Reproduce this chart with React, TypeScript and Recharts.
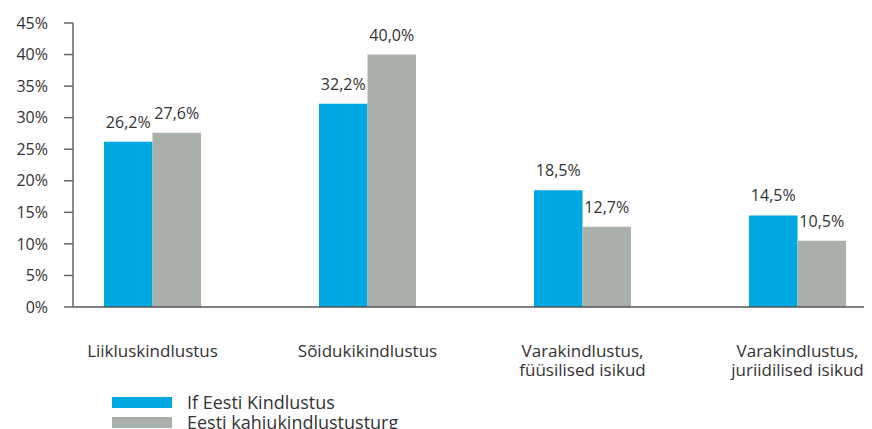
import { Bar, BarChart, LabelList, XAxis, YAxis } from "recharts";

const categories = [
  "Liikluskindlustus",
  "Sõidukikindlustus",
  "Varakindlustus,\nfüüsilised isikud",
  "Varakindlustus,\njuriidilised isikud",
];
const ifEesti = [26.2, 32.2, 18.5, 14.5];
const market = [27.6, 40.0, 12.7, 10.5];
const yTicks = [0, 5, 10, 15, 20, 25, 30, 35, 40, 45];

const BLUE = "#00a8e2";
const GREY = "#a9b0aa";
const TEXT = "#333333";
const FONT = "'Open Sans', sans-serif";

const series = [
  { key: "ifEesti", name: "If Eesti Kindlustus", color: BLUE },
  { key: "market", name: "Eesti kahjukindlustusturg", color: GREY },
];

const data = categories.map((name, i) => ({
  name,
  ifEesti: ifEesti[i],
  market: market[i],
}));

const pct = (v: unknown) => `${Number(v).toFixed(1).replace(".", ",")}%`;

function CategoryTick({ x, y, payload }: any) {
  const lines = String(payload.value).split("\n");
  return (
    <g>
      {lines.map((line, i) => (
        <text
          key={i}
          x={x}
          y={y + 42 + i * 19}
          textAnchor="middle"
          fill={TEXT}
          fontSize={17}
          fontFamily={FONT}
        >
          {line}
        </text>
      ))}
    </g>
  );
}

export default function App() {
  return (
    <div style={{ position: "relative", width: 864, height: 421, overflow: "hidden" }}>
      <BarChart
        width={897}
        height={421}
        data={data}
        margin={{ top: 15, right: 0, bottom: 82, left: 0 }}
        barGap={0}
        barSize={48.5}
      >
        <XAxis
          dataKey="name"
          interval={0}
          padding={{ left: -28, right: 0 }}
          tickLine={false}
          height={40}
          stroke="#555"
          strokeWidth={1.5}
          tick={<CategoryTick />}
        />
        <YAxis
          domain={[0, 45]}
          ticks={yTicks}
          width={65}
          tickSize={9}
          tickMargin={16}
          stroke="#666"
          strokeWidth={1.5}
          tickFormatter={(v) => `${v}%`}
          tick={{ fill: TEXT, fontSize: 16, fontFamily: FONT }}
        />
        {series.map((s) => (
          <Bar key={s.key} dataKey={s.key} name={s.name} fill={s.color} isAnimationActive={false}>
            <LabelList
              dataKey={s.key}
              position="top"
              offset={14}
              formatter={pct}
              fill={TEXT}
              fontSize={16}
              fontFamily={FONT}
            />
          </Bar>
        ))}
      </BarChart>
      <div
        style={{
          position: "absolute",
          left: 104,
          top: 384,
          fontFamily: FONT,
          fontSize: 18,
          lineHeight: "20px",
          color: TEXT,
          whiteSpace: "nowrap",
        }}
      >
        {series.map((s) => (
          <div key={s.key} style={{ display: "flex", alignItems: "center", height: 20 }}>
            <span style={{ width: 60, height: 11, background: s.color, marginRight: 15 }} />
            {s.name}
          </div>
        ))}
      </div>
    </div>
  );
}
